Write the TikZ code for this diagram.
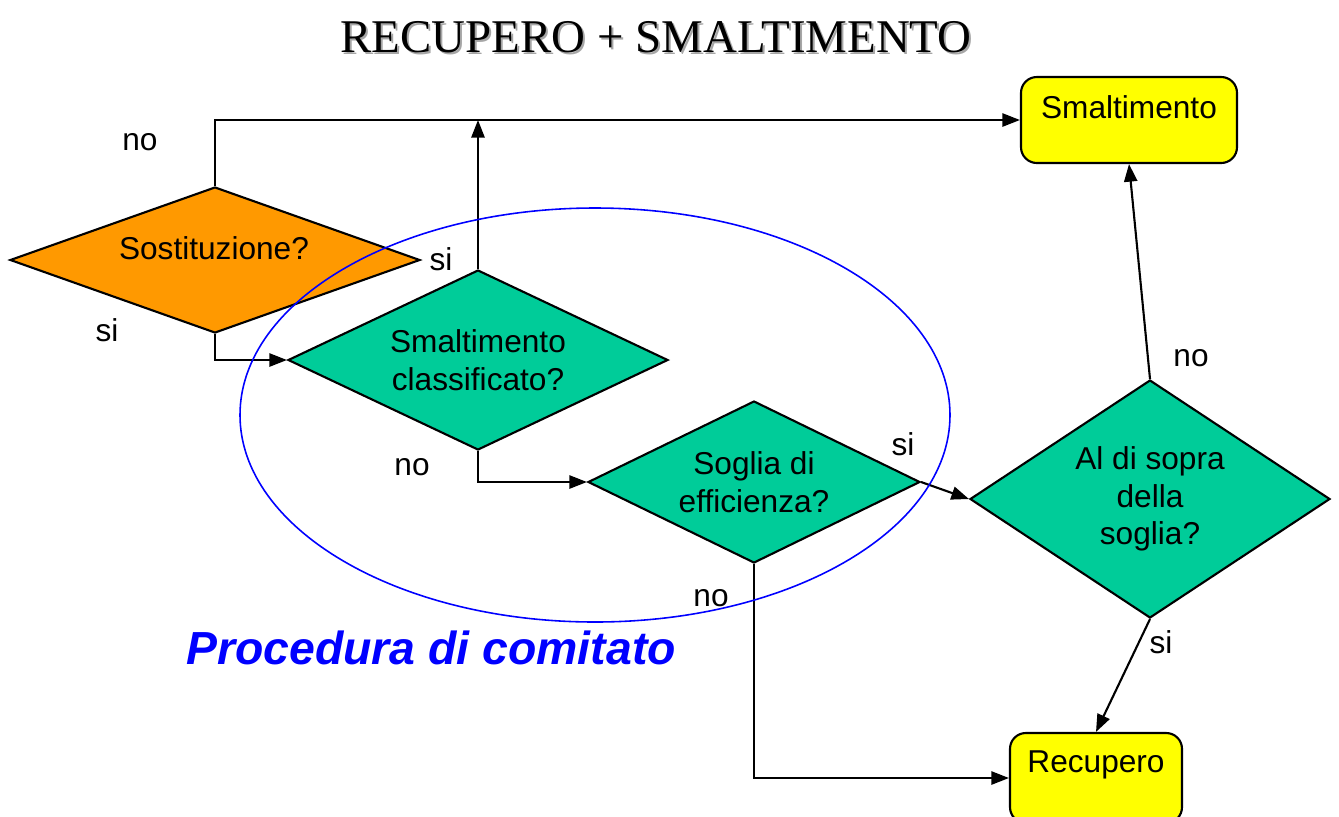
\documentclass[tikz,border=0pt]{standalone}
\usepackage{fontspec}
\setmainfont{Liberation Sans}
\newfontfamily\titlefont{Liberation Serif}
\usetikzlibrary{shapes.geometric,arrows.meta}
\definecolor{orangefill}{HTML}{FF9900}
\definecolor{tealfill}{HTML}{00CC99}
\definecolor{yellowfill}{HTML}{FFFF00}
\tikzset{
  dec/.style={shape=diamond, draw=black, line width=1.2pt, inner sep=0pt, align=center,
    font=\fontsize{18}{21.5}\selectfont},
  endbox/.style={rectangle, rounded corners=9pt, draw=black, line width=1.2pt, fill=yellowfill},
  txt/.style={font=\fontsize{18}{21.5}\selectfont, inner sep=0pt},
  lbl/.style={font=\fontsize{18}{21.5}\selectfont, inner sep=0pt, anchor=base},
  arr/.style={line width=1.2pt, -{Triangle[length=10pt,width=7.5pt]}}
}
\begin{document}
\begin{tikzpicture}[x=0.02cm,y=-0.02cm]
\useasboundingbox (0,0) rectangle (1339,816);
\clip (0,0) rectangle (1339,816);
% title with shadow
\node[font=\titlefont\fontsize{26.7}{30}\selectfont, text=black!35, inner sep=0pt] at (658,39) {RECUPERO + SMALTIMENTO};
\node[font=\titlefont\fontsize{26.7}{30}\selectfont, inner sep=0pt] (title) at (656,37) {RECUPERO + SMALTIMENTO};
% decision nodes
\node[dec, fill=orangefill, aspect=2.81, minimum width=410*0.02cm, minimum height=146*0.02cm] (sost) at (215,260) {};
\node[txt] (sosttxt) at (214,248) {Sostituzione?};
\node[dec, fill=tealfill, aspect=2.11, minimum width=380*0.02cm, minimum height=180*0.02cm] (sc) at (478,360) {Smaltimento\\classificato?};
\node[dec, fill=tealfill, aspect=2.05, minimum width=332*0.02cm, minimum height=162*0.02cm] (sog) at (754,482) {Soglia di\\efficienza?};
\node[dec, fill=tealfill, aspect=1.51, minimum width=360*0.02cm, minimum height=238*0.02cm] (al) at (1150,499) {Al di sopra\\della\\soglia?};
% terminal boxes
\node[endbox, minimum width=216*0.02cm, minimum height=86*0.02cm] (smalt) at (1129,120) {};
\node[txt] (smalttxt) at (1129,107) {Smaltimento};
\node[endbox, minimum width=172*0.02cm, minimum height=90*0.02cm] (rec) at (1096,778) {};
\node[txt] (rectxt) at (1096,765) {Recupero};
% connectors
\draw[arr] (sost.north) |- (smalt.west);
\draw[arr] (sc.north) -- (sc.north |- smalt.west);
\draw[arr] (sost.south) |- (sc.west);
\draw[arr] (sc.south) |- (sog.west);
\draw[arr] (sog.east) -- (al.west);
\draw[arr] (al.north) -- (smalt.south);
\draw[arr] (al.south) -- (rec.north);
\draw[arr] (sog.south) |- (rec.west);
% ellipse
\draw[blue, line width=0.9pt] (595,415) ellipse [x radius=355, y radius=207];
% branch labels
\node[lbl] (l1) at (140,150) {no};
\node[lbl] (l2) at (441,270) {si};
\node[lbl] (l3) at (107,341) {si};
\node[lbl] (l4) at (412,475) {no};
\node[lbl] (l5) at (903,455) {si};
\node[lbl] (l6) at (711,606) {no};
\node[lbl] (l7) at (1191,366) {no};
\node[lbl] (l8) at (1161,653) {si};
% caption
\node[font=\bfseries\itshape\fontsize{26.4}{30}\selectfont, text=blue, inner sep=0pt] (proc) at (431,648) {Procedura di comitato};
\end{tikzpicture}
\end{document}
